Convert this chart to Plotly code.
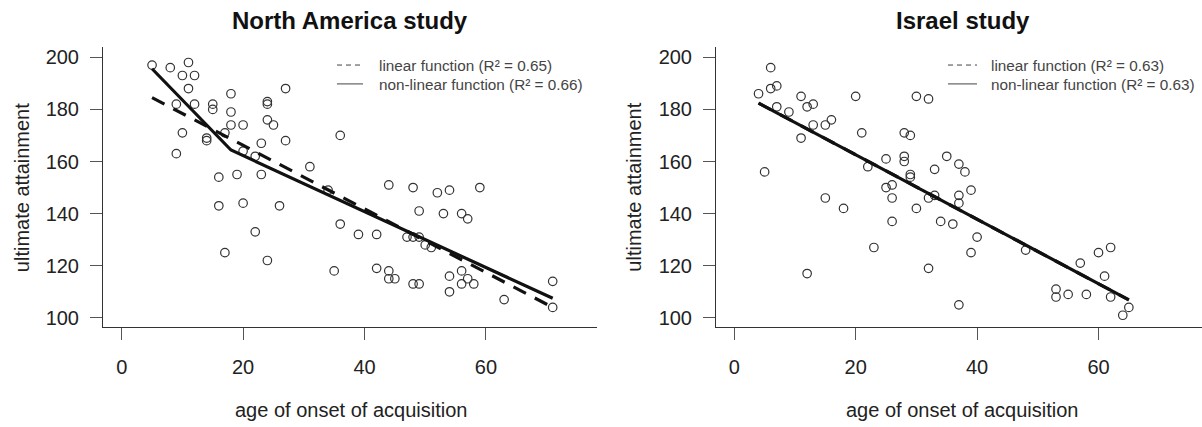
import plotly.graph_objects as go

W, H = 1202, 427

# ---------------- data ----------------
na_age = [5, 8, 11, 10, 12, 11, 9, 12, 15, 15, 18, 18, 18, 20, 17, 14, 14, 10, 9,
          24, 24, 24, 25, 27, 23, 27, 20, 22, 31, 16, 19, 23, 34, 36,
          16, 20, 26, 36, 22, 17, 24, 35,
          44, 48, 52, 54, 59, 49, 53, 56, 57, 39, 42, 47, 48, 49, 50, 51,
          42, 44, 44, 45, 48, 49, 54, 56, 57, 56, 58, 54, 63, 71, 71]
na_att = [197, 196, 198, 193, 193, 188, 182, 182, 182, 180, 186, 179, 174, 174, 171, 169, 168, 171, 163,
          183, 182, 176, 174, 188, 167, 168, 164, 162, 158, 154, 155, 155, 149, 170,
          143, 144, 143, 136, 133, 125, 122, 118,
          151, 150, 148, 149, 150, 141, 140, 140, 138, 132, 132, 131, 131, 131, 128, 127,
          119, 118, 115, 115, 113, 113, 116, 118, 115, 113, 113, 110, 107, 114, 104]

il_age = [6, 4, 6, 7, 7, 9, 11, 12, 13, 13, 15, 16, 11, 20, 21, 30, 32, 28, 29,
          28, 28, 25, 22, 35, 33, 37, 38, 29, 29, 25, 26, 15, 5, 33, 37, 39,
          26, 18, 30, 32, 37, 26, 34, 36, 39, 23, 12, 32, 37,
          40, 48, 57, 60, 62, 61, 53, 53, 55, 58, 62, 65, 64]
il_att = [196, 186, 188, 189, 181, 179, 185, 181, 182, 174, 174, 176, 169, 185, 171, 185, 184, 171, 170,
          162, 160, 161, 158, 162, 157, 159, 156, 155, 154, 150, 151, 146, 156, 147, 147, 149,
          146, 142, 142, 146, 144, 137, 137, 136, 125, 127, 117, 119, 105,
          131, 126, 121, 125, 127, 116, 111, 108, 109, 109, 108, 104, 101]

na_linear_x = [5, 71]
na_linear_y = [184.5, 104.0]
na_nonlinear_x = [5, 18, 71]
na_nonlinear_y = [195.6, 164.4, 107.5]

il_linear_x = [4, 65]
il_linear_y = [182.4, 106.9]
il_nonlinear_x = [4, 65]
il_nonlinear_y = [182.4, 106.9]

titles = ["North America study", "Israel study"]
na_legend = ["linear function (R² = 0.65)", "non-linear function (R² = 0.66)"]
il_legend = ["linear function (R² = 0.63)", "non-linear function (R² = 0.63)"]
x_title = "age of onset of acquisition"
y_title = "ultimate attainment"
x_ticks = [0, 20, 40, 60]
y_ticks = [100, 120, 140, 160, 180, 200]

# ---------------- figure ----------------
FONT = "Liberation Sans, Arial, Helvetica, sans-serif"
INK = "#222222"

fig = go.Figure()

def add_panel(age, att, lx, ly, nx, ny, xa, ya):
    fig.add_trace(go.Scatter(
        x=age, y=att, mode="markers", xaxis=xa, yaxis=ya, showlegend=False,
        marker=dict(symbol="circle-open", size=8.5, color="#333333", line=dict(width=1.2, color="#333333"))))
    fig.add_trace(go.Scatter(
        x=lx, y=ly, mode="lines", xaxis=xa, yaxis=ya, showlegend=False,
        line=dict(color="#111111", width=3.2, dash="14px,10px")))
    fig.add_trace(go.Scatter(
        x=nx, y=ny, mode="lines", xaxis=xa, yaxis=ya, showlegend=False,
        line=dict(color="#111111", width=3.2)))

add_panel(na_age, na_att, na_linear_x, na_linear_y, na_nonlinear_x, na_nonlinear_y, "x", "y")
add_panel(il_age, il_att, il_linear_x, il_linear_y, il_nonlinear_x, il_nonlinear_y, "x2", "y2")

def px(v):
    return v / W

def py(v):
    return 1 - v / H

axis_common = dict(
    showline=True, linecolor="#333333", linewidth=1, mirror=False,
    ticks="outside", ticklen=12, tickwidth=1, tickcolor="#555555",
    showgrid=False, zeroline=False,
    tickfont=dict(family=FONT, size=20, color=INK),
)

y_dom = [py(328), py(46.7)]
fig.update_layout(
    xaxis=dict(domain=[px(103), px(597)], range=[-3.08, 78.3], tickvals=x_ticks,
               ticklabelstandoff=10, anchor="y", **axis_common),
    yaxis=dict(domain=y_dom, range=[96.6, 203.8], tickvals=y_ticks,
               ticklabelstandoff=7, anchor="x", **axis_common),
    xaxis2=dict(domain=[px(716), 1.0], range=[-3.01, 77.05], tickvals=x_ticks,
                ticklabelstandoff=10, anchor="y2", **axis_common),
    yaxis2=dict(domain=y_dom, range=[96.6, 203.8], tickvals=y_ticks,
                ticklabelstandoff=7, anchor="x2", **axis_common),
    width=W, height=H,
    margin=dict(l=0, r=0, t=0, b=0, pad=0),
    paper_bgcolor="white", plot_bgcolor="white",
    showlegend=False,
)

ann = []
# titles
for t, cx in zip(titles, [350, 963]):
    ann.append(dict(text="<b>%s</b>" % t, x=px(cx), y=py(20), xref="paper", yref="paper",
                    xanchor="center", yanchor="middle", showarrow=False,
                    font=dict(family=FONT, size=24, color="#111111")))
# axis titles
for cx in [350.5, 962]:
    ann.append(dict(text=x_title, x=px(cx), y=py(412), xref="paper", yref="paper",
                    xanchor="center", yanchor="middle", showarrow=False,
                    font=dict(family=FONT, size=20, color=INK)))
for cx in [21.5, 634]:
    ann.append(dict(text=y_title, x=px(cx), y=py(188), xref="paper", yref="paper",
                    xanchor="center", yanchor="middle", showarrow=False, textangle=-90,
                    font=dict(family=FONT, size=20, color=INK)))

shapes = []
# legends
for labels, lx0, lx1, tx in [(na_legend, 337, 363, 377), (il_legend, 948, 977, 989)]:
    for i, (lab, ly) in enumerate(zip(labels, [64.5, 83.5])):
        shapes.append(dict(type="line", xref="paper", yref="paper",
                           x0=px(lx0), x1=px(lx1), y0=py(ly), y1=py(ly),
                           line=dict(color="#444444", width=1, dash="5px,4px" if i == 0 else "solid")))
        ann.append(dict(text=lab, x=px(tx), y=py(ly + 0.5), xref="paper", yref="paper",
                        xanchor="left", yanchor="middle", showarrow=False,
                        font=dict(family=FONT, size=15.3, color="#444444")))

fig.update_layout(annotations=ann, shapes=shapes)
fig.write_html("out.html", config={"displayModeBar": False},
               post_script="document.body.style.margin='0';document.body.style.overflow='hidden';")
